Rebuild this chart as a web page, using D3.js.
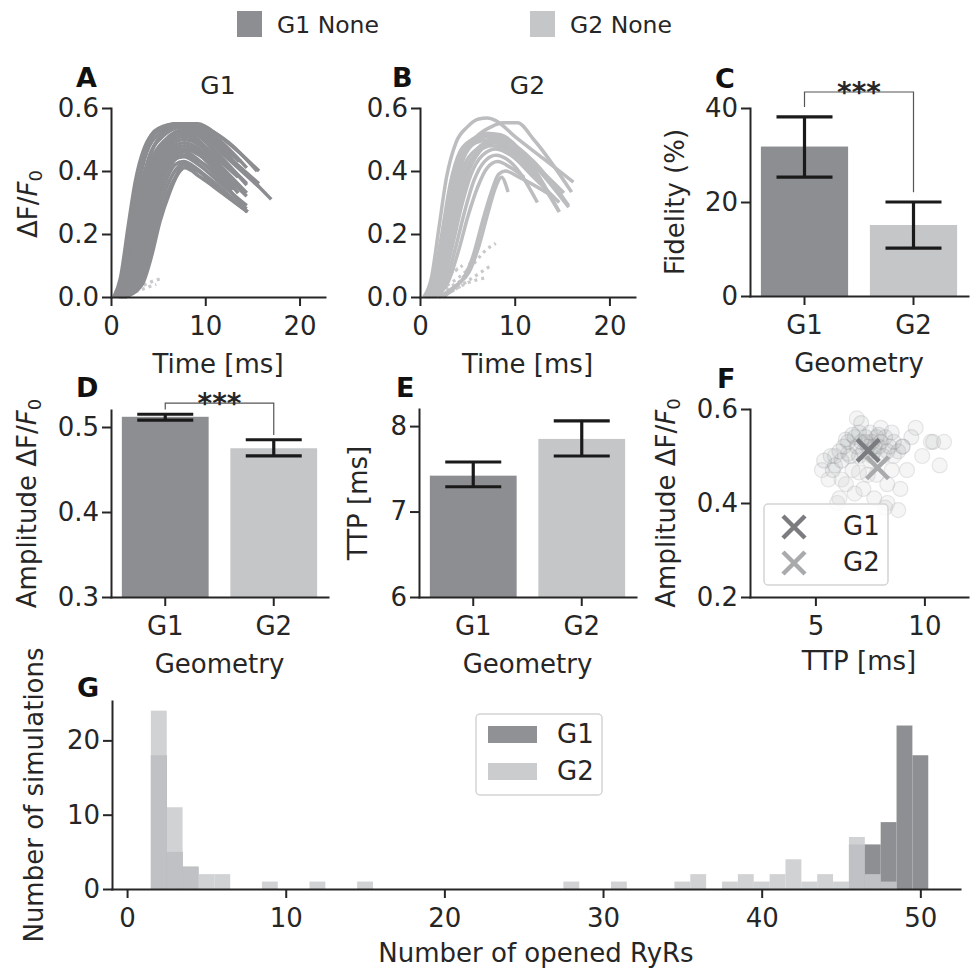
<!DOCTYPE html>
<html><head><meta charset="utf-8">
<script src="https://cdn.jsdelivr.net/npm/d3@7"></script>
<style>body{margin:0;background:#fff}</style>
</head><body><svg id="c" width="971" height="970"></svg>
<script>
// ---------------- DATA ----------------
const categories = ["G1", "G2"];
const fidelity = [31.8, 15.1];
const fidelityLo = [25.3, 10.2];
const fidelityHi = [38.1, 20.0];
const amplitude = [0.512, 0.475];
const amplitudeLo = [0.508, 0.466];
const amplitudeHi = [0.515, 0.485];
const ttp = [7.42, 7.85];
const ttpLo = [7.29, 7.65];
const ttpHi = [7.58, 8.06];
const significance = "***";

// Panel A: G1 traces [time ms, dF/F0]
const tracesG1 = [
  [[0.3,0],[1.0,0.06],[1.8,0.22],[2.6,0.37],[3.5,0.47],[5,0.53],[7,0.55],[9,0.54],[11,0.50],[13.6,0.43]],
  [[0.5,0],[1.3,0.05],[2.1,0.2],[2.9,0.35],[3.8,0.46],[5.2,0.52],[7.2,0.55],[9.2,0.55],[11.5,0.51],[15.7,0.40]],
  [[0.6,0],[1.5,0.05],[2.4,0.2],[3.2,0.35],[4.1,0.45],[5.5,0.51],[7.5,0.54],[9.5,0.53],[12,0.46],[17,0.31]],
  [[0.7,0],[1.7,0.05],[2.6,0.19],[3.5,0.34],[4.4,0.44],[5.8,0.5],[7.6,0.53],[9,0.52],[11,0.46],[14.4,0.36]],
  [[0.8,0],[1.9,0.05],[2.8,0.18],[3.7,0.33],[4.6,0.43],[6,0.49],[7.8,0.52],[9.2,0.5],[11,0.44],[12.6,0.37]],
  [[0.9,0],[2.1,0.05],[3.0,0.17],[3.9,0.31],[4.8,0.41],[6.2,0.48],[7.8,0.5],[9.5,0.48],[11.5,0.42],[14.4,0.33]],
  [[1.0,0],[2.3,0.05],[3.2,0.16],[4.1,0.3],[5.0,0.4],[6.3,0.46],[7.8,0.48],[9.4,0.46],[12.9,0.34]],
  [[1.1,0],[2.5,0.05],[3.4,0.15],[4.3,0.28],[5.3,0.38],[6.5,0.44],[7.8,0.46],[9.5,0.43],[12,0.36],[14.4,0.27]],
  [[1.2,0],[2.8,0.05],[3.8,0.15],[4.7,0.27],[5.7,0.36],[6.8,0.42],[7.7,0.43],[9,0.41],[11.5,0.34],[14.5,0.27]],
  [[1.4,0],[3.1,0.04],[4.1,0.13],[5.0,0.24],[6.0,0.33],[7.0,0.39],[7.7,0.42],[9.2,0.40],[12,0.33],[14.4,0.28]],
  [[0.4,0],[1.2,0.06],[2.0,0.22],[2.8,0.38],[3.7,0.48],[5,0.535],[7,0.55],[8.8,0.55],[10.5,0.53],[12.5,0.49],[15.5,0.40]],
  [[0.6,0],[1.6,0.05],[2.5,0.2],[3.4,0.36],[4.3,0.46],[5.6,0.52],[7.3,0.545],[8.5,0.55],[10,0.53],[12,0.47],[13.8,0.43]],
  [[0.8,0],[2.0,0.05],[2.9,0.18],[3.8,0.33],[4.7,0.43],[6.1,0.5],[7.8,0.53],[9.6,0.515],[12,0.45],[15.7,0.35]],
  [[1.0,0],[2.4,0.05],[3.3,0.16],[4.2,0.29],[5.2,0.39],[6.4,0.45],[7.8,0.47],[9.5,0.45],[12,0.38],[13.5,0.33]],
  [[1.2,0],[2.7,0.05],[3.6,0.15],[4.5,0.27],[5.5,0.37],[6.6,0.43],[7.7,0.45],[9.4,0.43],[12.5,0.35]],
  [[1.5,0],[3.3,0.04],[4.3,0.13],[5.2,0.24],[6.2,0.33],[7.1,0.39],[7.8,0.41],[9.5,0.38],[11.8,0.33],[14.5,0.27]],
  [[0.45,0],[1.25,0.055],[2.05,0.21],[2.85,0.365],[3.75,0.47],[5.1,0.53],[7.1,0.55],[9,0.545],[11,0.51],[14.4,0.41]],
  [[0.65,0],[1.55,0.05],[2.45,0.2],[3.3,0.355],[4.2,0.455],[5.6,0.515],[7.4,0.54],[9.2,0.53],[11.5,0.47],[15.7,0.36]],
  [[0.75,0],[1.8,0.05],[2.7,0.185],[3.6,0.335],[4.5,0.435],[5.9,0.495],[7.7,0.525],[9.3,0.51],[11.5,0.45],[14.4,0.355]],
  [[0.85,0],[2.0,0.05],[2.9,0.175],[3.8,0.32],[4.7,0.42],[6.1,0.485],[7.8,0.51],[9.4,0.49],[12,0.42],[13.5,0.38]],
  [[0.95,0],[2.2,0.05],[3.1,0.165],[4.0,0.305],[4.9,0.405],[6.25,0.47],[7.8,0.49],[9.4,0.47],[12,0.39],[14.4,0.32]],
  [[1.05,0],[2.4,0.05],[3.3,0.155],[4.2,0.29],[5.15,0.39],[6.4,0.455],[7.8,0.47],[9.4,0.45],[12,0.37],[12.9,0.345]],
  [[1.15,0],[2.6,0.05],[3.5,0.15],[4.4,0.275],[5.4,0.37],[6.6,0.435],[7.7,0.445],[9.3,0.42],[12,0.35],[14.4,0.29]],
  [[1.3,0],[2.95,0.045],[3.95,0.14],[4.85,0.255],[5.85,0.345],[6.9,0.405],[7.7,0.425],[9.1,0.405],[11.5,0.35],[13,0.31]]
];
const failedG1 = [
  [[0.8,0],[2,0.02],[3,0.03],[4,0.045],[5.5,0.06]],
  [[1.2,0],[2.5,0.015],[3.8,0.03],[4.8,0.04]],
  [[0.5,0],[1.5,0.02],[2.5,0.035]]
];
// Panel B: G2 traces
const tracesG2 = [
  [[0.4,0],[1.2,0.06],[2.0,0.22],[2.8,0.38],[3.8,0.49],[5,0.54],[6.2,0.565],[7.1,0.568],[8,0.56],[10,0.51],[13,0.44],[16.2,0.365]],
  [[0.8,0],[1.8,0.05],[2.8,0.2],[3.7,0.35],[4.8,0.46],[6,0.51],[7.5,0.54],[8.8,0.553],[10.3,0.553],[12,0.5],[16,0.333]],
  [[0.5,0],[1.4,0.05],[2.3,0.2],[3.2,0.36],[4.2,0.46],[5.5,0.5],[7,0.52],[8.5,0.515],[11,0.45],[14.7,0.27]],
  [[0.6,0],[1.6,0.05],[2.5,0.19],[3.4,0.34],[4.4,0.44],[5.7,0.49],[7.3,0.51],[9,0.5],[12,0.42],[15.7,0.285]],
  [[0.7,0],[1.8,0.05],[2.8,0.18],[3.7,0.32],[4.7,0.42],[6,0.47],[7.5,0.495],[9,0.485],[12.4,0.40]],
  [[0.9,0],[2.1,0.05],[3.1,0.17],[4.0,0.3],[5.0,0.4],[6.2,0.46],[7.8,0.49],[9.3,0.47],[12.4,0.38]],
  [[1.0,0],[2.4,0.05],[3.4,0.16],[4.4,0.29],[5.4,0.39],[6.6,0.45],[8,0.47],[9.6,0.45],[12,0.38],[14.7,0.3]],
  [[0.5,0],[1.5,0.05],[2.4,0.2],[3.3,0.35],[4.3,0.45],[5.6,0.5],[7,0.515],[8,0.51],[10,0.46],[12.4,0.41],[15.2,0.33]],
  [[1.2,0],[2.7,0.05],[3.7,0.15],[4.7,0.27],[5.7,0.37],[6.8,0.43],[8,0.45],[9.5,0.43],[12.4,0.3]],
  [[1.5,0],[3.0,0.05],[4.1,0.15],[5.1,0.26],[6.1,0.35],[7.1,0.41],[8.2,0.43],[9.6,0.41],[11,0.38]],
  [[2.0,0],[3.5,0.03],[4.6,0.06],[5.6,0.13],[6.6,0.24],[7.5,0.33],[8.3,0.39],[9,0.40],[10.5,0.38],[14,0.32]],
  [[2.5,0],[4,0.04],[5.2,0.08],[6.2,0.16],[7.2,0.27],[8.0,0.35],[8.6,0.38],[9.3,0.333]],
  [[0.7,0],[1.9,0.05],[2.9,0.17],[3.9,0.31],[4.9,0.41],[6.1,0.46],[7.6,0.48],[9,0.47],[11,0.43],[14.7,0.27]],
  [[1.0,0],[2.3,0.05],[3.3,0.17],[4.3,0.31],[5.3,0.41],[6.5,0.47],[8,0.5],[9.5,0.49],[12,0.43],[15.7,0.29]],
  [[0.6,0],[1.7,0.05],[2.7,0.19],[3.6,0.34],[4.6,0.44],[5.9,0.49],[7.5,0.5],[9,0.485],[11.5,0.43],[12.8,0.4]]
];
const failedG2 = [
  [[1,0],[2.5,0.03],[4,0.06],[5.5,0.1],[7,0.15],[8,0.17]],
  [[1.5,0],[3,0.03],[4.5,0.06],[5.5,0.12],[6.3,0.17]],
  [[2,0],[3.5,0.02],[5,0.05],[6.5,0.08],[7.5,0.1]],
  [[1.2,0],[2.4,0.04],[3.6,0.08],[4.5,0.1]],
  [[2.5,0],[4,0.03],[5.5,0.05],[6.8,0.06]],
  [[0.6,0],[1.8,0.03],[3,0.07],[4,0.09]]
];

// Panel F scatter: TTP [ms], amplitude
const scatterTTP_G1 = [5.4,5.7,5.9,6.1,6.3,6.5,6.6,6.8,6.9,7.0,7.1,7.2,7.3,7.4,7.5,7.6,7.7,7.8,7.9,8.0,8.1,8.2,8.4,8.6,8.8,9.0,6.2,6.7,7.0,7.3,7.6,7.9,8.3,5.8,6.4,7.1,7.7,8.5,9.4,10.4];
const scatterAmp_G1 = [0.49,0.50,0.48,0.51,0.52,0.53,0.50,0.54,0.52,0.55,0.53,0.51,0.54,0.52,0.55,0.53,0.51,0.54,0.52,0.53,0.50,0.54,0.52,0.53,0.51,0.52,0.49,0.545,0.50,0.53,0.50,0.545,0.51,0.47,0.535,0.57,0.52,0.55,0.54,0.53];
const scatterTTP_G2 = [5.3,5.6,5.9,6.1,6.4,6.7,6.9,7.2,7.5,7.8,8.0,8.3,8.6,8.9,9.2,9.6,9.9,10.3,10.7,10.9,6.0,6.8,7.4,8.2,8.8,6.5,7.0,7.7,8.5,9.0,8.3,6.2];
const scatterAmp_G2 = [0.47,0.45,0.50,0.41,0.44,0.47,0.58,0.43,0.49,0.46,0.56,0.44,0.50,0.43,0.47,0.56,0.50,0.53,0.48,0.53,0.40,0.42,0.46,0.39,0.385,0.505,0.465,0.41,0.47,0.52,0.40,0.45];

// Panel G histogram: bin centre (number of opened RyRs), count
const histBinsG1 = [2,3,4,46,47,48,49,50];
const histCountsG1 = [18,5,3,6,6,9,22,18];
const histBinsG2 = [2,3,4,5,6,9,12,15,28,31,35,36,38,39,40,41,42,43,44,45,46,47,48];
const histCountsG2 = [24,11,3,2,2,1,1,1,1,1,1,2,1,2,1,2,4,1,2,1,7,2,1];

// tick labels
const ticksTimeX = [0,10,20], ticksDffY = [0,0.2,0.4,0.6];
const ticksFidY = [0,20,40], ticksAmpY = [0.3,0.4,0.5], ticksTtpY = [6,7,8];
const ticksFX = [5,10], ticksFY = [0.2,0.4,0.6];
const ticksGX = [0,10,20,30,40,50], ticksGY = [0,10,20];

// ---------------- STYLE / LAYOUT ----------------
const C1 = "#8d8e91", C2 = "#c5c6c8";
const LINE1 = "#8c8d90", LINE2 = "#bcbdbf";
const INK = "#262626";
const FONT = "'DejaVu Sans', sans-serif";
const FS = 26;
const svg = d3.select("#c");
svg.append("rect").attr("width",971).attr("height",970).attr("fill","#fff");

const L = {
  A:{x:[111,325], y:[297,108]},
  B:{x:[420,635], y:[297,108]},
  C:{x:[750,968], y:[296,108]},
  D:{x:[111,328], y:[597,410]},
  E:{x:[419,636], y:[597,409]},
  F:{x:[750,968], y:[597,409]},
  G:{x:[112,960], y:[889,701]}
};

function styleAxis(a){
  a.attr("font-size",FS).attr("font-family",FONT);
  a.select(".domain").attr("stroke",INK).attr("stroke-width",2).attr("stroke-linecap","square");
  a.selectAll(".tick line").attr("stroke",INK).attr("stroke-width",2);
  a.selectAll(".tick text").attr("fill",INK);
}
function yAxis(scale,x0,ticks,fmt){
  const a = svg.append("g").attr("transform",`translate(${x0},0)`)
    .call(d3.axisLeft(scale).tickValues(ticks).tickFormat(fmt||(d=>d)).tickSize(9).tickPadding(3).tickSizeOuter(0));
  styleAxis(a);
}
function xAxis(scale,y0,ticks,fmt){
  const ax = d3.axisBottom(scale).tickSize(9).tickPadding(11).tickSizeOuter(0);
  if (ticks) ax.tickValues(ticks);
  if (fmt) ax.tickFormat(fmt);
  const a = svg.append("g").attr("transform",`translate(0,${y0})`).call(ax);
  styleAxis(a);
}
function text(x,y,s,opt={}){
  const t = svg.append("text").attr("x",x).attr("y",y).attr("font-family",FONT)
    .attr("font-size",opt.size||FS).attr("fill",opt.fill||INK)
    .attr("text-anchor",opt.anchor||"middle");
  if (opt.weight) t.attr("font-weight",opt.weight);
  if (s!==null) t.text(s);
  return t;
}
function yLabel(x,y,s,dff){
  const t = svg.append("text").attr("transform",`translate(${x},${y}) rotate(-90)`)
    .attr("font-family",FONT).attr("font-size",FS).attr("fill",INK).attr("text-anchor","middle");
  if (dff){
    t.append("tspan").text(s+"ΔF/");
    t.append("tspan").attr("font-style","italic").text("F");
    t.append("tspan").attr("font-size",18).attr("dy",5).text("0");
  } else t.text(s);
}
const fmt1 = d3.format(".1f");
const LETTER = {anchor:"start",weight:"bold",size:27,fill:"#111"};

// ---------------- TOP LEGEND ----------------
svg.append("rect").attr("x",237).attr("y",11).attr("width",25).attr("height",26).attr("fill",C1);
text(277,33,"G1 None",{anchor:"start",size:23.5});
svg.append("rect").attr("x",530).attr("y",11).attr("width",25).attr("height",26).attr("fill",C2);
text(570,33,"G2 None",{anchor:"start",size:23.5});

// ---------------- PANELS A & B ----------------
function tracePanel(P, traces, failed, color, title, letter, lx, showYLabel){
  const x = d3.scaleLinear().domain([0,22.7]).range(P.x);
  const y = d3.scaleLinear().domain([0,0.6]).range(P.y);
  const line = d3.line().x(d=>x(d[0])).y(d=>y(d[1])).curve(d3.curveMonotoneX);
  svg.append("g").selectAll("path").data(failed).join("path")
    .attr("d",line).attr("fill","none").attr("stroke","#c8c9cb").attr("stroke-width",3.2)
    .attr("stroke-dasharray","3,4");
  svg.append("g").selectAll("path").data(traces).join("path")
    .attr("d",line).attr("fill","none").attr("stroke",color).attr("stroke-width",3.5);
  yAxis(y,P.x[0],ticksDffY,fmt1);
  xAxis(x,P.y[0],ticksTimeX);
  text((P.x[0]+P.x[1])/2,94,title,{size:25});
  text(lx,87,letter,LETTER);
  text((P.x[0]+P.x[1])/2,373,"Time [ms]");
  if (showYLabel) yLabel(37,204,"",true);
}
tracePanel(L.A,tracesG1,failedG1,LINE1,"G1","A",76,true);
tracePanel(L.B,tracesG2,failedG2,LINE2,"G2","B",392,false);

// ---------------- BAR PANELS ----------------
function barPanel(P, vals, lo, hi, ydom, ticks, fmt, ylab, yLabX, dff, letter, lx, ly, sig){
  const x = d3.scaleBand().domain(categories).range(P.x).paddingInner(0.2).paddingOuter(0.1);
  const y = d3.scaleLinear().domain(ydom).range(P.y);
  svg.append("g").selectAll("rect").data(categories).join("rect")
    .attr("x",d=>x(d)).attr("width",x.bandwidth())
    .attr("y",(d,i)=>y(vals[i])).attr("height",(d,i)=>y(ydom[0])-y(vals[i]))
    .attr("fill",(d,i)=>i===0?C1:C2);
  const eb = svg.append("g").attr("stroke","#1a1a1a").attr("stroke-width",3.2);
  categories.forEach((c,i)=>{
    const cx = x(c)+x.bandwidth()/2;
    eb.append("line").attr("x1",cx).attr("x2",cx).attr("y1",y(lo[i])).attr("y2",y(hi[i]));
    eb.append("line").attr("x1",cx-28).attr("x2",cx+28).attr("y1",y(lo[i])).attr("y2",y(lo[i]));
    eb.append("line").attr("x1",cx-28).attr("x2",cx+28).attr("y1",y(hi[i])).attr("y2",y(hi[i]));
  });
  yAxis(y,P.x[0],ticks,fmt);
  xAxis(x,P.y[0]);
  text((P.x[0]+P.x[1])/2,P.y[0]+76,"Geometry");
  yLabel(yLabX,(P.y[0]+P.y[1])/2,ylab,dff);
  text(lx,ly,letter,LETTER);
  if (sig){
    const x1 = x(categories[0])+x.bandwidth()/2, x2 = x(categories[1])+x.bandwidth()/2;
    const yt = y(sig.top);
    svg.append("path").attr("d",`M${x1},${y(hi[0]+sig.gap)}V${yt}H${x2}V${y(hi[1]+sig.gap)}`)
      .attr("fill","none").attr("stroke","#555").attr("stroke-width",1.2);
    text((x1+x2)/2,yt+10,significance,{size:28,weight:"bold"});
  }
}
barPanel(L.C,fidelity,fidelityLo,fidelityHi,[0,40],ticksFidY,d=>d,"Fidelity (%)",684,false,"C",715,88,{top:43.4,gap:2.1});
barPanel(L.D,amplitude,amplitudeLo,amplitudeHi,[0.3,0.52],ticksAmpY,fmt1,"Amplitude ",36,true,"D",76,397,{top:0.528,gap:0.0055});
barPanel(L.E,ttp,ttpLo,ttpHi,[6,8.2],ticksTtpY,d=>d,"TTP [ms]",367,false,"E",396,397,null);

// ---------------- PANEL F ----------------
{
  const P = L.F;
  const x = d3.scaleLinear().domain([2,12]).range(P.x);
  const y = d3.scaleLinear().domain([0.2,0.6]).range(P.y);
  const pts2 = scatterTTP_G2.map((t,i)=>[t,scatterAmp_G2[i]]);
  const pts1 = scatterTTP_G1.map((t,i)=>[t,scatterAmp_G1[i]]);
  svg.append("g").selectAll("circle").data(pts2).join("circle")
    .attr("cx",d=>x(d[0])).attr("cy",d=>y(d[1])).attr("r",7.5)
    .attr("fill",C2).attr("fill-opacity",0.18).attr("stroke",C2).attr("stroke-opacity",0.4).attr("stroke-width",1.2);
  svg.append("g").selectAll("circle").data(pts1).join("circle")
    .attr("cx",d=>x(d[0])).attr("cy",d=>y(d[1])).attr("r",7.5)
    .attr("fill",C1).attr("fill-opacity",0.11).attr("stroke",C1).attr("stroke-opacity",0.22).attr("stroke-width",1.2);
  const cross = (cx,cy,col)=>{
    svg.append("path").attr("d",`M${cx-11},${cy-11}L${cx+11},${cy+11}M${cx-11},${cy+11}L${cx+11},${cy-11}`)
      .attr("stroke",col).attr("stroke-width",4.5).attr("fill","none");
  };
  cross(x(ttp[0]),y(amplitude[0]),"#7b7c7f");
  cross(x(ttp[1]),y(amplitude[1]),"#a9aaac");
  yAxis(y,P.x[0],ticksFY,fmt1);
  xAxis(x,P.y[0],ticksFX);
  text((P.x[0]+P.x[1])/2,670,"TTP [ms]");
  yLabel(675,503,"Amplitude ",true);
  text(717,388,"F",LETTER);
  // legend
  svg.append("rect").attr("x",764).attr("y",504).attr("width",124).attr("height",81).attr("rx",4)
    .attr("fill","#fff").attr("fill-opacity",0.8).attr("stroke","#d4d4d4").attr("stroke-width",1.5);
  cross(794,527,"#7b7c7f"); cross(794,563,"#a9aaac");
  text(843,535,"G1",{anchor:"start"});
  text(843,571,"G2",{anchor:"start"});
}

// ---------------- PANEL G ----------------
{
  const P = L.G;
  const x = d3.scaleLinear().domain([-0.95,52.5]).range(P.x);
  const y = d3.scaleLinear().domain([0,25.3]).range(P.y);
  svg.append("g").selectAll("rect").data(histBinsG1.map((b,i)=>[b,histCountsG1[i]])).join("rect")
    .attr("x",d=>x(d[0]-0.5)).attr("width",d=>x(d[0]+0.5)-x(d[0]-0.5))
    .attr("y",d=>y(d[1])).attr("height",d=>y(0)-y(d[1])).attr("fill","#8e8f92");
  svg.append("g").selectAll("rect").data(histBinsG2.map((b,i)=>[b,histCountsG2[i]])).join("rect")
    .attr("x",d=>x(d[0]-0.5)).attr("width",d=>x(d[0]+0.5)-x(d[0]-0.5))
    .attr("y",d=>y(d[1])).attr("height",d=>y(0)-y(d[1])).attr("fill","#c9cacc").attr("fill-opacity",0.85);
  yAxis(y,P.x[0],ticksGY);
  xAxis(x,P.y[0],ticksGX);
  text((P.x[0]+P.x[1])/2,962,"Number of opened RyRs");
  yLabel(43,795,"Number of simulations",false);
  text(77,697,"G",LETTER);
  svg.append("rect").attr("x",476).attr("y",714).attr("width",126).attr("height",81).attr("rx",4)
    .attr("fill","#fff").attr("fill-opacity",0.8).attr("stroke","#d4d4d4").attr("stroke-width",1.5);
  svg.append("rect").attr("x",488).attr("y",726).attr("width",49).attr("height",17).attr("fill","#909194");
  svg.append("rect").attr("x",488).attr("y",763).attr("width",49).attr("height",17).attr("fill","#cbcccd");
  text(557,743,"G1",{anchor:"start"});
  text(557,780,"G2",{anchor:"start"});
}
</script></body></html>
